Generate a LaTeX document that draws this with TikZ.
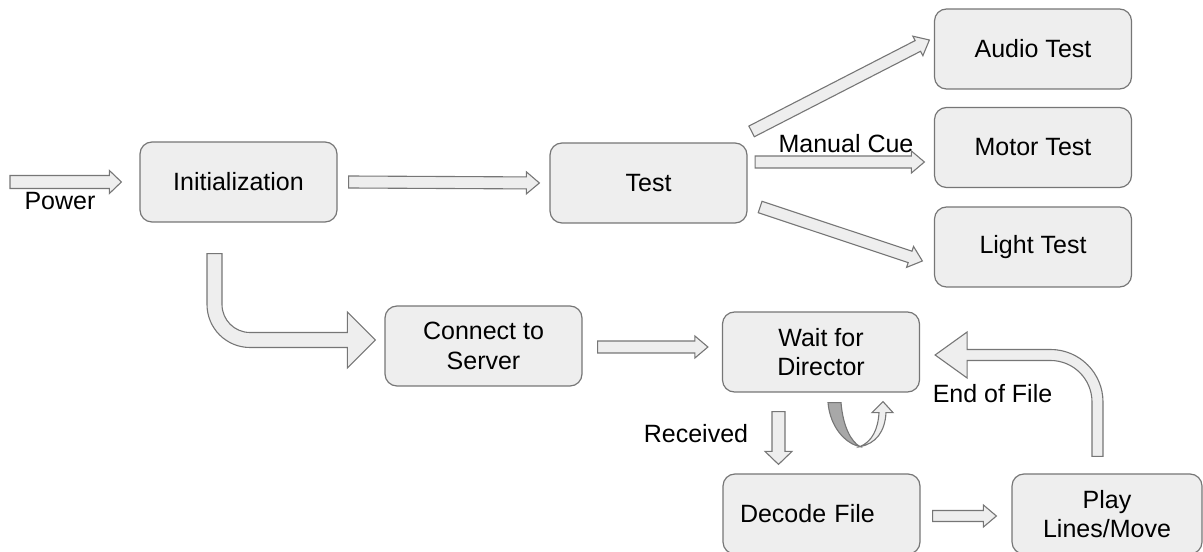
\documentclass[tikz,border=0pt]{standalone}
\usepackage{fontspec}
\setmainfont{Liberation Sans}
\usetikzlibrary{calc}
\definecolor{boxfill}{RGB}{238,238,238}
\definecolor{boxline}{RGB}{118,118,118}
\definecolor{loopdark}{RGB}{168,168,168}
\tikzset{
  box/.style={draw=boxline,fill=boxfill,line width=1.2bp,rounded corners=12bp,
    minimum width=197bp,minimum height=80bp,align=center,inner sep=0pt},
  blockarr/.style={draw=boxline,fill=boxfill,line width=1.1bp,line join=miter},
  lbl/.style={anchor=base,inner sep=0pt},
}
% start, tip, half shaft, half head, head length
\newcommand{\blockarrow}[5]{%
  \path[blockarr] let \p1=#1, \p2=#2,
    \n1={atan2(\y2-\y1,\x2-\x1)}, \n2={veclen(\x2-\x1,\y2-\y1)} in
    [shift={(\p1)},rotate=\n1]
    (0pt,-#3) -- (\n2-#5,-#3) -- (\n2-#5,-#4) -- (\n2,0pt)
    -- (\n2-#5,#4) -- (\n2-#5,#3) -- (0pt,#3) -- cycle;}
\begin{document}
\begin{tikzpicture}[font=\fontsize{25bp}{29.5bp}\selectfont,text=black]
\useasboundingbox (0,0) rectangle (1203bp,552bp);
%%
\node (node_init) at (238.5bp,370bp) [box] {Initialization};
  \node (node_test) at (648.5bp,369bp) [box] {Test};
  \node (node_audio) at (1033bp,503bp) [box] {Audio Test};
  \node (node_motor) at (1033bp,404.5bp) [box] {Motor Test};
  \node (node_light) at (1033bp,305bp) [box] {Light Test};
  \node (node_connect) at (483.5bp,206bp) [box] {Connect to\\Server};
  \node (node_wait) at (821bp,200bp) [box] {Wait for\\Director};
  \node (node_decode) at (821.5bp,38bp) [box,text width=163bp,align=left,inner xsep=17bp] {Decode File};
  \node (node_play) at (1107bp,38bp) [box,minimum width=190bp] {Play\\Lines/Move};
  \coordinate (power_in) at (10bp,370bp);
%
\blockarrow{(power_in)}{($(node_init.west)+(-18bp,0)$)}{6.5bp}{11.5bp}{12bp}
  \blockarrow{($(node_init.east)+(11bp,0)$)}{($(node_test.west)+(-10bp,0)$)}{6bp}{11bp}{13bp}
  \blockarrow{($(node_test.north east)+(4bp,11bp)$)}{($(node_audio.west)+(-4.5bp,9bp)$)}{6bp}{11bp}{13bp}
  \blockarrow{($(node_test.east)+(7.5bp,21bp)$)}{($(node_motor.west)+(-9.5bp,-14.5bp)$)}{6bp}{11bp}{13bp}
  \blockarrow{($(node_test.east)+(12.5bp,-24bp)$)}{($(node_light.west)+(-11.5bp,-14bp)$)}{6bp}{11bp}{13bp}
  \blockarrow{($(node_connect.east)+(15bp,-1bp)$)}{($(node_wait.west)+(-14bp,5bp)$)}{6bp}{11bp}{13bp}
  \blockarrow{($(node_wait.south)+(-42.5bp,-19bp)$)}{($(node_decode.north)+(-43bp,9bp)$)}{6.5bp}{13.5bp}{13bp}
  \blockarrow{($(node_decode.east)+(12bp,-2bp)$)}{($(node_play.west)+(-15bp,-2bp)$)}{5.5bp}{11bp}{13bp}
%
\path[blockarr] let \p1=($(node_init.south)+(-24bp,-31bp)$), \p2=($(node_connect.west)+(-9bp,6bp)$) in
    (\x1-7.5bp,\y1) -- (\x1-7.5bp,\y2+35.5bp) arc[start angle=180,end angle=270,radius=43bp]
    -- (\x2-28bp,\y2-7.5bp) -- (\x2-28bp,\y2-28bp) -- (\p2) -- (\x2-28bp,\y2+28bp)
    -- (\x2-28bp,\y2+7.5bp) -- (\x1+35.5bp,\y2+7.5bp) arc[start angle=270,end angle=180,radius=28bp]
    -- (\x1+7.5bp,\y1) -- cycle;
  \path[blockarr] let \p1=($(node_play.north)+(-9.5bp,17bp)$), \p2=($(node_wait.east)+(15bp,-3bp)$) in
    (\x1+5.5bp,\y1) -- (\x1+5.5bp,\y2-47bp) arc[start angle=0,end angle=90,radius=52.5bp]
    -- (\x2+32bp,\y2+5.5bp) -- (\x2+32bp,\y2+23bp) -- (\p2) -- (\x2+32bp,\y2-23bp)
    -- (\x2+32bp,\y2-5.5bp) -- (\x1-47bp,\y2-5.5bp) arc[start angle=90,end angle=0,radius=41.5bp]
    -- (\x1-5.5bp,\y1) -- cycle;
%
\begin{scope}[shift={(node_wait.south)}]
  \path[blockarr,fill=loopdark] (7bp,-10bp) -- (20bp,-10bp) .. controls (22bp,-34bp) and (30bp,-49bp) .. (39bp,-54bp)
    .. controls (24bp,-51bp) and (9bp,-34bp) .. (7bp,-10bp) -- cycle;
  \path[blockarr] (39bp,-54bp) .. controls (55bp,-51bp) and (64bp,-39bp) .. (65bp,-20bp) -- (72bp,-20bp) -- (62bp,-9bp)
    -- (51bp,-20bp) -- (58bp,-20bp) .. controls (57bp,-37bp) and (51bp,-49bp) .. (39bp,-54bp) -- cycle;
\end{scope}
%
\node (lbl_power) at (60bp,342bp) [lbl] {Power};
  \node (lbl_cue) at (846bp,399bp) [lbl] {Manual Cue};
  \node (lbl_received) at (696bp,109bp) [lbl] {Received};
  \node (lbl_eof) at (992.5bp,149bp) [lbl] {End of File};
%
\end{tikzpicture}
\end{document}
